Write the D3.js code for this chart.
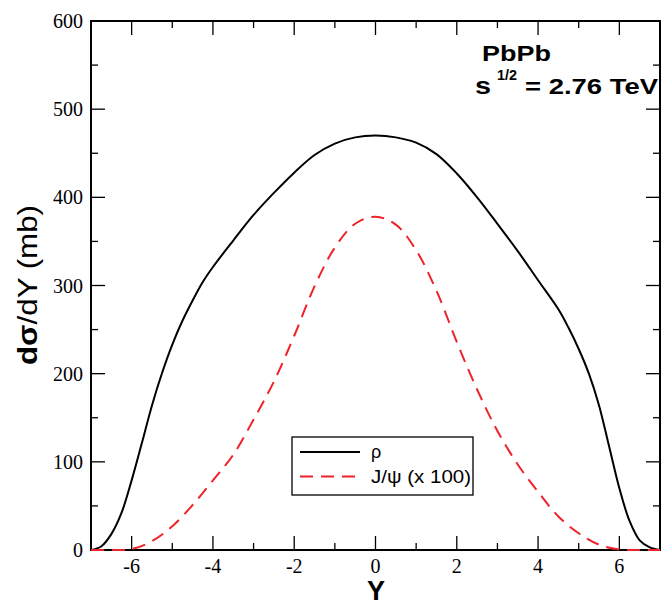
<!DOCTYPE html>
<html>
<head>
<meta charset="utf-8">
<script src="https://cdn.jsdelivr.net/npm/d3@7"></script>
<style>
  body { margin: 0; background: #fff; }
  svg { display: block; }
</style>
</head>
<body>
<svg id="chart" width="672" height="603"></svg>
<script>
// rapidity grid and rho cross section (mb)
const rhoY = [-7, -6.75, -6.5, -6.25, -6, -5.75, -5.5, -5.25, -5, -4.75, -4.5, -4.25, -4, -3.5, -3, -2.5, -2, -1.5, -1, -0.5, 0,
  0.5, 1, 1.5, 2, 2.5, 3, 3.5, 4, 4.5, 4.75, 5, 5.25, 5.5, 5.75, 6, 6.25, 6.5, 6.75, 7];
const rhoVals = [0, 4, 18, 42, 79, 121, 164, 201, 233, 260, 283, 304, 321, 351, 380, 405, 428, 448, 461, 468, 470,
  468, 462, 449, 427, 400, 370, 339, 306, 273, 252, 228, 200, 164, 117, 70, 33, 11, 3, 0];

// J/psi (x 100)
const psiY = [-7, -6.5, -6, -5.5, -5, -4.5, -4, -3.5, -3, -2.5, -2, -1.5, -1, -0.5, 0,
  0.5, 1, 1.5, 2, 2.5, 3, 3.5, 4, 4.5, 5, 5.5, 6, 6.5, 7];
const psiVals = [0, 0, 1, 10, 27, 51, 79, 108, 148, 191, 243, 299, 343, 370, 378,
  369, 340, 294, 236, 182, 135, 97, 66, 38, 19, 6, 0.5, 0, 0];

const legendLabels = ['\u03c1', 'J/\u03c8 (x 100)'];
const xMajor = [-6, -4, -2, 0, 2, 4, 6];
const xMinor = [-5, -3, -1, 1, 3, 5];
const yMajor = [0, 100, 200, 300, 400, 500, 600];
const yMinor = [50, 150, 250, 350, 450, 550];

const svg = d3.select('#chart');
const m = { left: 91, right: 660, top: 21, bottom: 550 };
const sans = '"Liberation Sans", Arial, sans-serif';
const serif = '"Liberation Serif", "Times New Roman", "DejaVu Serif", serif';

const x = d3.scaleLinear().domain([-7, 7]).range([m.left, m.right]);
const y = d3.scaleLinear().domain([0, 600]).range([m.bottom, m.top]);

const frame = svg.append('g');

// ticks, mirrored on all four sides, pointing inward
const tickX = (vals, len) => {
    vals.forEach((v) => {
        frame.append('line').attr('x1', x(v)).attr('x2', x(v)).attr('y1', m.bottom).attr('y2', m.bottom - len);
        frame.append('line').attr('x1', x(v)).attr('x2', x(v)).attr('y1', m.top).attr('y2', m.top + len);
    });
};
const tickY = (vals, len) => {
    vals.forEach((v) => {
        frame.append('line').attr('y1', y(v)).attr('y2', y(v)).attr('x1', m.left).attr('x2', m.left + len);
        frame.append('line').attr('y1', y(v)).attr('y2', y(v)).attr('x1', m.right).attr('x2', m.right - len);
    });
};
tickX(xMajor, 14);
tickX(xMinor, 7);
tickY(yMajor.filter(v => v > 0 && v < 600), 14);
tickY(yMinor, 7);
frame.selectAll('line').attr('stroke', '#000').attr('stroke-width', 1.3);

frame.append('rect')
    .attr('x', m.left).attr('y', m.top)
    .attr('width', m.right - m.left).attr('height', m.bottom - m.top)
    .attr('fill', 'none').attr('stroke', '#000').attr('stroke-width', 2);

// tick labels
svg.append('g').selectAll('text')
    .data(xMajor).enter().append('text')
    .attr('x', d => x(d)).attr('y', 573)
    .attr('text-anchor', 'middle')
    .style('font-family', serif).style('font-size', '20px')
    .text(d => d);

svg.append('g').selectAll('text')
    .data(yMajor).enter().append('text')
    .attr('x', 83).attr('y', d => y(d) + 7)
    .attr('text-anchor', 'end')
    .style('font-family', serif).style('font-size', '20px')
    .text(d => d);

// curves
const line = d3.line()
    .x(d => x(d[0]))
    .y(d => y(d[1]))
    .curve(d3.curveCatmullRom.alpha(0.5));

svg.append('path')
    .datum(rhoY.map((v, i) => [v, rhoVals[i]]))
    .attr('d', line)
    .attr('fill', 'none').attr('stroke', '#000').attr('stroke-width', 2);

svg.append('path')
    .datum(psiY.map((v, i) => [v, psiVals[i]]))
    .attr('d', line)
    .attr('fill', 'none').attr('stroke', '#ee2229').attr('stroke-width', 2)
    .attr('stroke-dasharray', '13,8');

// axis titles
svg.append('text')
    .attr('x', 376).attr('y', 600)
    .attr('text-anchor', 'middle')
    .style('font-family', sans)
    .style('font-size', '27px').style('font-weight', 'bold')
    .text('Y');

const yTitle = svg.append('text')
    .attr('transform', 'translate(37,365) rotate(-90)')
    .attr('textLength', 160).attr('lengthAdjust', 'spacingAndGlyphs')
    .style('font-family', sans)
    .style('font-size', '28px');
yTitle.append('tspan').style('font-weight', 'bold').text('d\u03c3');
yTitle.append('tspan').text('/dY (mb)');

// annotation
svg.append('text')
    .attr('x', 482).attr('y', 61)
    .attr('textLength', 69).attr('lengthAdjust', 'spacingAndGlyphs')
    .style('font-family', sans)
    .style('font-size', '22px').style('font-weight', 'bold')
    .text('PbPb');
svg.append('text')
    .attr('x', 475).attr('y', 94)
    .attr('textLength', 16).attr('lengthAdjust', 'spacingAndGlyphs')
    .style('font-family', sans)
    .style('font-size', '23px').style('font-weight', 'bold')
    .text('s');
svg.append('text')
    .attr('x', 497).attr('y', 80)
    .attr('textLength', 20).attr('lengthAdjust', 'spacingAndGlyphs')
    .style('font-family', sans)
    .style('font-size', '15px').style('font-weight', 'bold')
    .text('1/2');
svg.append('text')
    .attr('x', 525).attr('y', 94)
    .attr('textLength', 133).attr('lengthAdjust', 'spacingAndGlyphs')
    .style('font-family', sans)
    .style('font-size', '22px').style('font-weight', 'bold')
    .text('= 2.76 TeV');

// legend
const legend = svg.append('g');
legend.append('rect')
    .attr('x', 292).attr('y', 437)
    .attr('width', 181).attr('height', 58)
    .attr('fill', '#fff').attr('stroke', '#000').attr('stroke-width', 1.3);

const legendStyles = [
    { stroke: '#000', dash: null, width: null },
    { stroke: '#ee2229', dash: '13,8', width: 100 }
];
legendLabels.forEach((label, i) => {
    const ly = 452 + i * 24.5;
    legend.append('line')
        .attr('x1', 300).attr('x2', 360).attr('y1', ly).attr('y2', ly)
        .attr('stroke', legendStyles[i].stroke).attr('stroke-width', 2)
        .attr('stroke-dasharray', legendStyles[i].dash);
    legend.append('text')
        .attr('x', 371).attr('y', ly + 6)
        .attr('textLength', legendStyles[i].width)
        .attr('lengthAdjust', 'spacingAndGlyphs')
        .style('font-family', sans)
        .style('font-size', '18px')
        .text(label);
});
</script>
</body>
</html>
